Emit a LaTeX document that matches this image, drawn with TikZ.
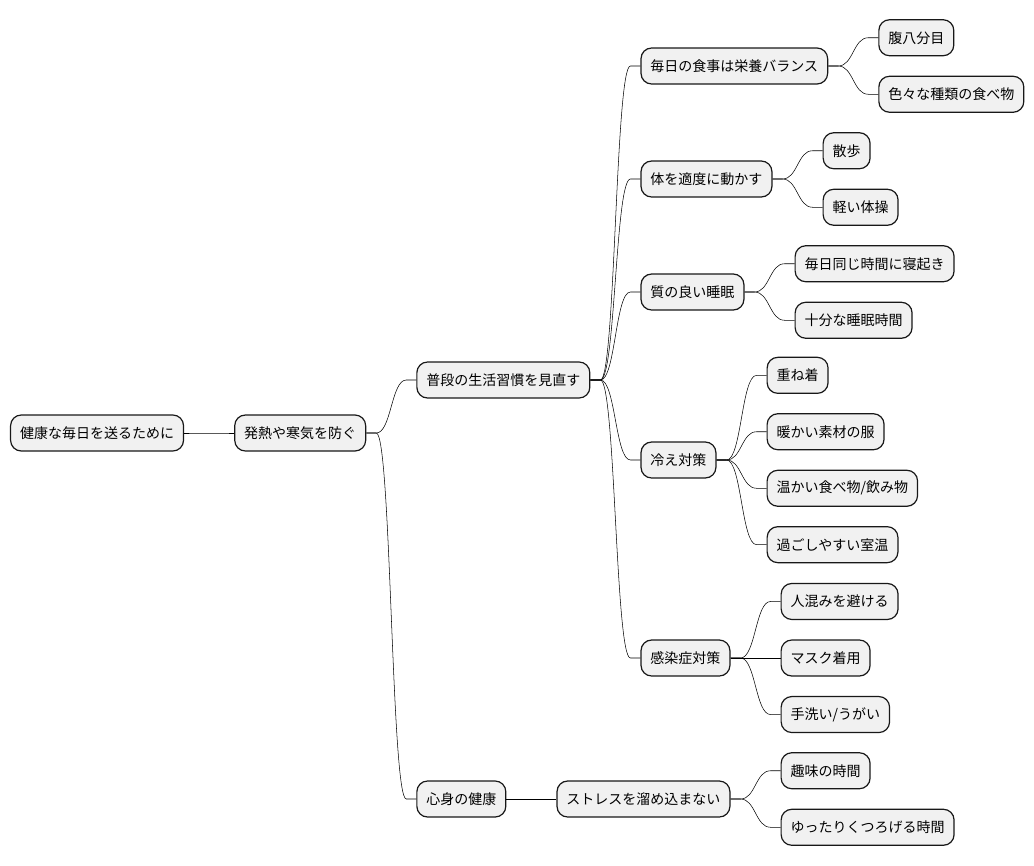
\documentclass[tikz,border=0pt]{standalone}
\usepackage{fontspec}
\setmainfont{Noto Sans CJK JP}
\usepackage{xcolor}
\usetikzlibrary{positioning}

\definecolor{boxfill}{HTML}{F1F1F1}
\definecolor{boxline}{HTML}{181818}

\begin{document}
\begin{tikzpicture}[node distance=37.5pt]
  \tikzset{box/.style={draw=boxline,fill=boxfill,line width=.9pt,rounded corners=8pt,inner xsep=7.1pt,minimum height=27pt,font=\fontsize{10.5pt}{12pt}\selectfont},
    branch/.style={draw=boxline,line width=.6pt,to path={-- ++(7.5pt,0) .. controls +(11.25pt,0) and +(-11.25pt,0) .. ([xshift=-7.5pt]\tikztotarget) -- (\tikztotarget)}}}
  \node[box] (root) {健康な毎日を送るために};
  \node[box,right=of root] (fever) {発熱や寒気を防ぐ};
  \node[box,right=of fever,yshift=39.75pt] (habits) {普段の生活習慣を見直す};
  \node[box,right=of fever,yshift=-274.5pt] (mind) {心身の健康};
  % habits
  \node[box,right=of habits,yshift=235.5pt] (food) {毎日の食事は栄養バランス};
  \node[box,right=of habits,yshift=150.75pt] (move) {体を適度に動かす};
  \node[box,right=of habits,yshift=66pt] (sleep) {質の良い睡眠};
  \node[box,right=of habits,yshift=-60pt] (chill) {冷え対策};
  \node[box,right=of habits,yshift=-208.5pt] (infect) {感染症対策};
  \node[box,right=of food,yshift=21.2pt] (hara) {腹八分目};
  \node[box,right=of food,yshift=-21.2pt] (variety) {色々な種類の食べ物};
  \node[box,right=of move,yshift=21.2pt] (walk) {散歩};
  \node[box,right=of move,yshift=-21.2pt] (gym) {軽い体操};
  \node[box,right=of sleep,yshift=21.2pt] (wake) {毎日同じ時間に寝起き};
  \node[box,right=of sleep,yshift=-21.2pt] (hours) {十分な睡眠時間};
  \node[box,right=of chill,yshift=63.5pt] (layers) {重ね着};
  \node[box,right=of chill,yshift=21.2pt] (clothes) {暖かい素材の服};
  \node[box,right=of chill,yshift=-21.2pt] (warmfood) {温かい食べ物/飲み物};
  \node[box,right=of chill,yshift=-63.5pt] (room) {過ごしやすい室温};
  \node[box,right=of infect,yshift=42.4pt] (crowd) {人混みを避ける};
  \node[box,right=of infect] (mask) {マスク着用};
  \node[box,right=of infect,yshift=-42.4pt] (wash) {手洗い/うがい};
  % mind
  \node[box,right=of mind] (stress) {ストレスを溜め込まない};
  \node[box,right=of stress,yshift=21.2pt] (hobby) {趣味の時間};
  \node[box,right=of stress,yshift=-21.2pt] (relax) {ゆったりくつろげる時間};
  \draw (root.east) to[branch] (fever.west);
  \foreach \a/\b in {fever/habits,fever/mind,habits/food,habits/move,habits/sleep,habits/chill,habits/infect,
    food/hara,food/variety,move/walk,move/gym,sleep/wake,sleep/hours,chill/layers,chill/clothes,chill/warmfood,chill/room,
    infect/crowd,infect/mask,infect/wash,mind/stress,stress/hobby,stress/relax}
    \draw (\a.east) to[branch] (\b.west);
  \useasboundingbox ([xshift=-7.5pt,yshift=324.75pt]root.west) rectangle ++(775.5pt,-648.75pt);
\end{tikzpicture}
\end{document}
